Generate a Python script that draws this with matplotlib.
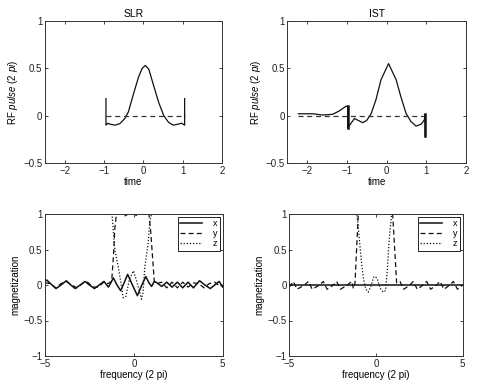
import numpy as np
import matplotlib
matplotlib.use("Agg")
import matplotlib.pyplot as plt

plt.rcParams['font.family'] = ['Liberation Sans', 'DejaVu Sans']
plt.rcParams['font.size'] = 7
plt.rcParams['mathtext.fontset'] = 'custom'
plt.rcParams['mathtext.it'] = 'Liberation Sans:italic'
plt.rcParams['mathtext.rm'] = 'Liberation Sans'

# ---------------- data ----------------
# SLR RF pulse (time, real part)
slr_t = [-0.95, -0.95, -0.90, -0.85, -0.72, -0.60, -0.47, -0.38, -0.25, -0.12, -0.03, 0.05,
         0.14, 0.26, 0.39, 0.52, 0.64, 0.76, 0.88, 0.97, 1.05, 1.05]
slr_re = [0.18, -0.10, -0.08, -0.09, -0.10, -0.085, -0.03, 0.04, 0.23, 0.41, 0.50, 0.53,
          0.49, 0.32, 0.14, 0.00, -0.07, -0.10, -0.09, -0.08, -0.10, 0.18]
slr_im_t = [-0.95, 1.05]
slr_im = [0.0, 0.0]

# IST RF pulse
ist_t = [-2.22, -1.86, -1.61, -1.36, -1.19, -1.02, -0.98, -0.98, -0.81, -0.60, -0.50, -0.39,
         -0.27, -0.14, 0.05, 0.24, 0.36, 0.49, 0.61, 0.74, 0.87, 0.95, 0.975, 0.975]
ist_re = [0.02, 0.02, 0.007, 0.014, 0.05, 0.10, 0.10, -0.13, -0.03, -0.074, -0.05, 0.02,
          0.165, 0.38, 0.55, 0.38, 0.20, 0.025, -0.06, -0.11, -0.09, -0.045, 0.015, -0.22]
ist_im_t = [-2.22, 1.02]
ist_im = [0.0, 0.0]

# SLR magnetization profile
slr_fx = [-5.0, -4.9, -4.65, -4.38, -4.1, -3.8, -3.55, -3.3, -3.02, -2.75, -2.5, -2.22, -1.95,
          -1.68, -1.43, -1.15, -0.95, -0.74, -0.55, -0.35, -0.08, 0.2, 0.45, 0.67, 0.85, 1.0,
          1.15, 1.3, 1.57, 1.85, 2.15, 2.45, 2.75, 3.05, 3.35, 3.7, 4.0, 4.3, 4.55, 4.8, 5.0]
slr_mx = [0.05, 0.07, 0.01, -0.05, 0.0, 0.06, 0.0, -0.05, 0.0, 0.05, 0.0, -0.05, 0.0,
          0.05, -0.03, 0.10, 0.0, -0.08, 0.03, 0.15, 0.0, -0.15, 0.0, 0.12, 0.03, -0.02,
          0.05, 0.03, -0.02, 0.04, -0.03, 0.04, -0.04, 0.04, -0.04, 0.06, 0.0, -0.05, 0.0, 0.05, -0.03]
slr_fy = [-5.0, -4.7, -4.4, -4.1, -3.8, -3.5, -3.2, -2.9, -2.6, -2.3, -2.0, -1.7, -1.45,
          -1.25, -1.15, -1.07, -0.98, -0.7, -0.5, -0.3, 0.0, 0.15, 0.3, 0.6, 0.85, 0.95, 1.05, 1.15,
          1.3, 1.55, 1.85, 2.15, 2.45, 2.75, 3.05, 3.35, 3.65, 3.95, 4.25, 4.55, 4.85, 5.0]
slr_my = [0.03, 0.02, -0.04, 0.02, 0.05, 0.0, -0.04, 0.02, 0.04, -0.03, -0.03, 0.04, 0.02,
          0.05, 0.40, 0.80, 1.0, 1.0, 0.975, 1.0, 1.0, 0.98, 1.0, 1.0, 1.0, 0.75, 0.40, 0.05,
          0.02, 0.04, -0.04, 0.04, -0.04, 0.04, -0.03, 0.03, 0.02, -0.04, 0.02, 0.04, -0.02, 0.0]
slr_fz = [-5.0, -1.3, -1.22, -1.07, -0.88, -0.72, -0.6, -0.45, -0.25, -0.02, 0.2, 0.43,
          0.52, 0.62, 0.8, 0.9, 1.0, 5.0]
slr_mz = [1.0, 1.0, 0.97, 0.49, 0.26, 0.02, -0.18, -0.16, 0.08, 0.20, 0.02, -0.20,
          -0.10, 0.26, 0.58, 0.90, 1.0, 1.0]

# IST magnetization profile
ist_fx = [-5.0, 5.0]
ist_mx = [0.0, 0.0]
ist_fy = [-5.0, -4.92, -4.77, -4.55, -4.12, -3.9, -3.68, -3.25, -3.04, -2.82, -2.45, -2.27,
          -2.05, -1.65, -1.4, -1.3, -1.21, -1.12, -1.02, -0.5, 0.0, 0.5, 0.96, 1.08, 1.19,
          1.38, 1.6, 1.95, 2.15, 2.38, 2.72, 2.92, 3.15, 3.5, 3.69, 3.92, 4.26, 4.46, 4.7, 5.0]
ist_my = [-0.03, 0.0, 0.05, -0.06, 0.0, 0.05, -0.06, 0.0, 0.05, -0.06, 0.0, 0.05,
          -0.06, 0.0, 0.05, -0.05, 0.03, 0.5, 1.0, 1.0, 1.0, 1.0, 1.0, 0.5, 0.03,
          0.05, -0.06, 0.0, 0.05, -0.06, 0.0, 0.05, -0.06, 0.0, 0.05, -0.06, 0.0, 0.05, -0.06, 0.0]
ist_fz = [-5.0, -1.1, -1.0, -0.85, -0.73, -0.6, -0.45, -0.3, -0.12, 0.05, 0.25, 0.42,
          0.55, 0.65, 0.75, 0.9, 5.0]
ist_mz = [1.0, 1.0, 0.75, 0.35, 0.10, -0.05, -0.10, -0.02, 0.12, 0.10, -0.05, -0.10,
          -0.08, 0.20, 0.60, 1.0, 1.0]

# ---------------- drawing ----------------
W, H = 483, 386
fig = plt.figure(figsize=(W / 100, H / 100), dpi=100)
fig.patch.set_facecolor('white')

def ax_at(l, r, t, b):
    return fig.add_axes([l / W, 1 - b / H, (r - l) / W, (b - t) / H])

ax1 = ax_at(45, 222, 21, 163)
ax2 = ax_at(287.3, 466, 21, 163)
ax3 = ax_at(45, 222.7, 214, 356)
ax4 = ax_at(289.3, 462.7, 214, 356)

lc = '#111111'
for ax in (ax1, ax2, ax3, ax4):
    ax.tick_params(direction='in', length=2.5, width=0.6, top=True, right=True,
                   labelsize=7, pad=2, colors='#222222')
    for s in ax.spines.values():
        s.set_linewidth(0.7)
        s.set_color('#333333')

# top row
for ax, t, re, it, im, title in ((ax1, slr_t, slr_re, slr_im_t, slr_im, 'SLR'),
                                 (ax2, ist_t, ist_re, ist_im_t, ist_im, 'IST')):
    ax.plot(t, re, color=lc, lw=0.9)
    ax.plot(it, im, color='#333333', lw=0.9, ls=(0, (4, 3)))
    ax.set_xlim(-2.5, 2)
    ax.set_ylim(-0.5, 1)
    ax.set_xticks([-2, -1, 0, 1, 2])
    ax.set_yticks([-0.5, 0, 0.5, 1])
    ax.set_yticklabels(['\u22120.5', '0', '0.5', '1'])
    ax.set_xticklabels(['\u22122', '\u22121', '0', '1', '2'])
    ax.set_xlabel('time', fontsize=7, labelpad=1)
    ax.set_ylabel('RF $\\it{pulse}$ (2 $\\it{pi}$)', fontsize=7, labelpad=2)
    ax.set_title(title, fontsize=7.5, pad=3)

# thick end segments of IST pulse
ax2.plot(ist_t[6:8], ist_re[6:8], color=lc, lw=1.8)
ax2.plot(ist_t[22:24], ist_re[22:24], color=lc, lw=1.8)

# bottom row
for ax, fx, mx, fy, my, fz, mz in ((ax3, slr_fx, slr_mx, slr_fy, slr_my, slr_fz, slr_mz),
                                   (ax4, ist_fx, ist_mx, ist_fy, ist_my, ist_fz, ist_mz)):
    ax.plot(fx, mx, color=lc, lw=1.1, label='x')
    ax.plot(fy, my, color=lc, lw=0.9, ls=(0, (4, 2.5)), label='y')
    ax.plot(fz, mz, color=lc, lw=0.9, ls=(0, (1, 1.5)), label='z')
    ax.set_xlim(-5, 5)
    ax.set_ylim(-1, 1)
    ax.set_xticks([-5, 0, 5])
    ax.set_xticklabels(['\u22125', '0', '5'])
    ax.set_yticks([-1, -0.5, 0, 0.5, 1])
    ax.set_yticklabels(['\u22121', '\u22120.5', '0', '0.5', '1'])
    ax.set_xlabel('frequency (2 pi)', fontsize=7, labelpad=1)
    ax.set_ylabel('magnetization', fontsize=7, labelpad=2)
    leg = ax.legend(loc='upper right', fontsize=6.5, handlelength=2.4, handletextpad=1.2,
                    borderaxespad=0.3, fancybox=False, framealpha=1, edgecolor='#222222',
                    borderpad=0.3, labelspacing=0.1)
    leg.get_frame().set_linewidth(0.7)

fig.savefig('out.png', dpi=100, facecolor='white')
